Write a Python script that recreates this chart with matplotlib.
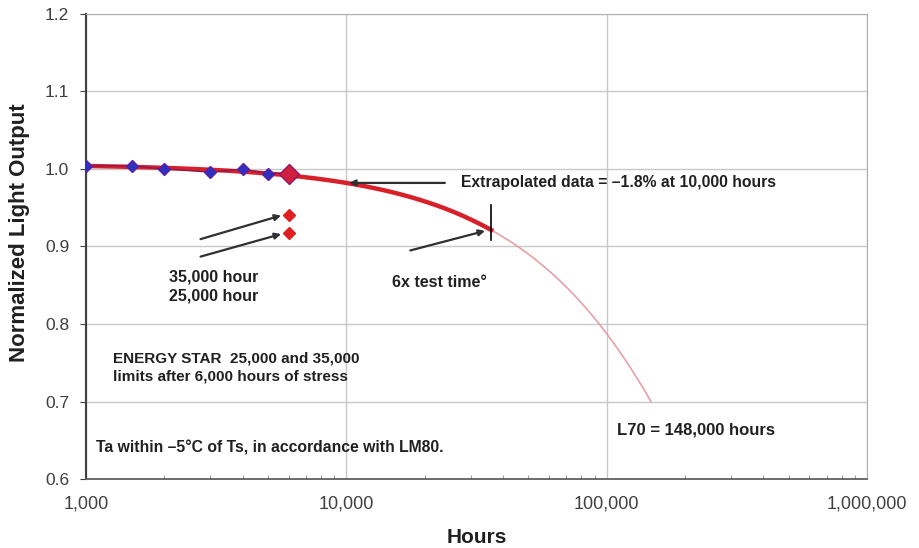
import numpy as np
import matplotlib
matplotlib.use("Agg")
import matplotlib.pyplot as plt
from matplotlib.ticker import LogLocator, NullFormatter

plt.rcParams['font.family'] = ['Liberation Sans', 'DejaVu Sans']

hours = [1000, 1500, 2000, 3000, 4000, 5000, 6000]
light = [1.004, 1.004, 1.000, 0.996, 1.000, 0.994, 0.995]
es_hours = [6000, 6000]
es_limits = [0.941, 0.917]
fit_B = 1.0064
fit_a = 2.453e-6
test_end = 36000
l70_hours = 148000

fig = plt.figure(figsize=(9.19, 5.48), dpi=100)
ax = fig.add_axes([0.0936, 0.1259, 0.8498, 0.8486])
ax.set_xscale('log')
ax.set_xlim(1000, 1e6)
ax.set_ylim(0.6, 1.2)

ax.grid(True, which='major', color='#c8c8c8', lw=1)
ax.set_axisbelow(True)
for s in ['top', 'right']:
    ax.spines[s].set_color('#b0b0b0')
ax.spines['bottom'].set_color('#606060')
ax.spines['bottom'].set_linewidth(1.3)
ax.spines['left'].set_color('#404040')
ax.spines['left'].set_linewidth(1.5)

t1 = np.logspace(3, np.log10(test_end), 200)
t2 = np.logspace(np.log10(test_end), np.log10(l70_hours), 200)
ax.plot(t2, fit_B*np.exp(-fit_a*t2), color='#e8a0a8', lw=1.2)
ax.plot(t1, fit_B*np.exp(-fit_a*t1), color='#d8202a', lw=3.2, zorder=3)

ax.plot(hours, light, color='#8a1a50', lw=1, marker='D', ms=6,
        mfc='#3030c0', mec='#5a20a0', zorder=4)
ax.plot([hours[-1]], [light[-1] - 0.001], marker='D', ms=10, color='#d02040',
        mec='#9a1060', zorder=5, ls='none')
ax.plot(es_hours, es_limits, 'D', color='#e02020', ms=6, zorder=5)

ax.plot([test_end, test_end], [0.954, 0.909], color='black', lw=1.2, zorder=6)

ap = dict(arrowstyle='-|>', color='#303030', lw=1.6, mutation_scale=9)
y10 = fit_B*np.exp(-fit_a*10000)
ax.annotate('', xy=(10000, y10), xytext=(24500, y10), arrowprops=ap)
ax.text(27500, y10, 'Extrapolated data = \u20131.8% at 10,000 hours',
        fontsize=11.3, fontweight='bold', va='center', color='#202020')

ax.annotate('', xy=(test_end*0.97, 0.921), xytext=(17200, 0.894), arrowprops=ap)
ax.text(15000, 0.854, '6x test time\u00b0', fontsize=11.5, fontweight='bold',
        va='center', color='#202020')

ax.annotate('', xy=(5750, es_limits[0]), xytext=(2690, 0.9085), arrowprops=ap)
ax.annotate('', xy=(5750, es_limits[1]), xytext=(2690, 0.886), arrowprops=ap)
ax.text(2090, 0.861, '35,000 hour', fontsize=11.5, fontweight='bold', va='center', color='#202020')
ax.text(2090, 0.836, '25,000 hour', fontsize=11.5, fontweight='bold', va='center', color='#202020')

ax.text(1270, 0.744, 'ENERGY STAR  25,000 and 35,000\nlimits after 6,000 hours of stress',
        fontsize=11, fontweight='bold', va='center', color='#202020', linespacing=1.3)
ax.text(1090, 0.640, 'Ta within \u20135\u00b0C of Ts, in accordance with LM80.',
        fontsize=11.3, fontweight='bold', va='center', color='#202020')
ax.text(110000, 0.663, 'L70 = 148,000 hours', fontsize=12, fontweight='bold',
        va='center', color='#202020')

ax.set_xticks([1000, 10000, 100000, 1000000])
ax.set_xticklabels(['1,000', '10,000', '100,000', '1,000,000'])
ax.xaxis.set_minor_locator(LogLocator(base=10, subs=np.arange(2, 10)))
ax.xaxis.set_minor_formatter(NullFormatter())
ax.set_yticks(np.arange(0.6, 1.21, 0.1))
ax.set_yticklabels(['0.6', '0.7', '0.8', '0.9', '1.0', '1.1', '1.2'])
ax.tick_params(axis='x', which='major', length=0, labelsize=13, pad=12, colors='#404040')
ax.tick_params(axis='x', which='minor', direction='in', length=3, color='#808080')
ax.tick_params(axis='y', which='major', direction='out', length=4, labelsize=12.5, pad=8,
               colors='#404040')
ax.set_xlabel('Hours', fontsize=15, fontweight='bold', color='#202020')
ax.set_ylabel('Normalized Light Output', fontsize=16, fontweight='bold', color='#202020')
ax.xaxis.set_label_coords(0.5, -0.105)
ax.yaxis.set_label_coords(-0.072, 0.53)

fig.savefig('out.png', dpi=100)
